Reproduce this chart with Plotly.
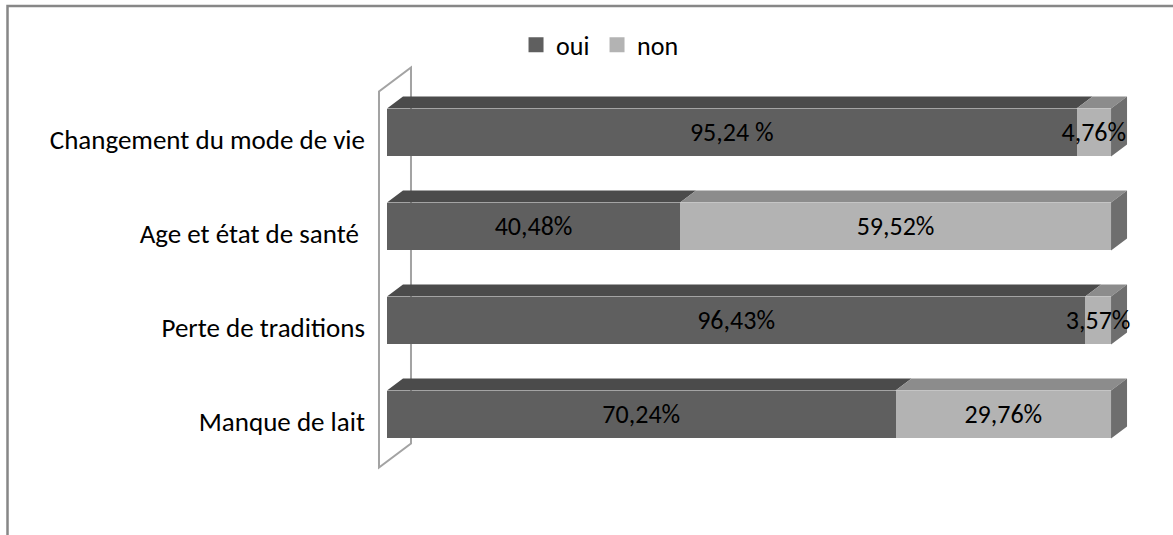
import plotly.graph_objects as go

# ---------------- data ----------------
categories = ["Manque de lait", "Perte de traditions", "Age et état de santé\u00a0", "Changement du mode de vie"]
oui = [70.24, 96.43, 40.48, 95.24]
non = [29.76, 3.57, 59.52, 4.76]
oui_labels = ["70,24%", "96,43%", "40,48%", "95,24 %"]
non_labels = ["29,76%", "3,57%", "59,52%", "4,76%"]
series_names = ["oui", "non"]

# ---------------- style ----------------
FONT = "Calibri, Carlito, Lato, sans-serif"
C_OUI_FRONT, C_OUI_TOP = "#5f5f5f", "#4b4b4b"
C_NON_FRONT, C_NON_TOP, C_NON_SIDE = "#b3b3b3", "#8c8c8c", "#6e6e6e"
WALL = "#a3a3a3"
BAR_W = 0.51
DX_FULL, DY_FULL = 4.42, 0.255      # oblique projection of full depth (data units)
F_FRONT, F_BACK = 0.25, 0.75        # bar depth span (fraction of full depth)
bdx = (F_BACK - F_FRONT) * DX_FULL
bdy = (F_BACK - F_FRONT) * DY_FULL
wf_dx, wf_dy = -F_FRONT * DX_FULL, -F_FRONT * DY_FULL
wb_dx, wb_dy = (1 - F_FRONT) * DX_FULL, (1 - F_FRONT) * DY_FULL

pos = list(range(len(categories)))
n = len(categories)

fig = go.Figure()

# front faces
fig.add_trace(go.Bar(y=pos, x=oui, orientation="h", width=BAR_W, name=series_names[0],
                     marker=dict(color=C_OUI_FRONT, line=dict(width=0)), hoverinfo="skip",
                     showlegend=False))
fig.add_trace(go.Bar(y=pos, x=non, base=oui, orientation="h", width=BAR_W, name=series_names[1],
                     marker=dict(color=C_NON_FRONT, line=dict(width=0)), hoverinfo="skip",
                     showlegend=False))

# legend entries (square keys)
for name, col in zip(series_names, [C_OUI_FRONT, C_NON_FRONT]):
    fig.add_trace(go.Scatter(x=[None], y=[None], mode="markers", name=name,
                             marker=dict(symbol="square", size=15, color=col), hoverinfo="skip"))


def poly_trace(xs, ys, color):
    return go.Scatter(x=xs, y=ys, mode="lines", fill="toself", fillcolor=color,
                      line=dict(width=0, color=color), showlegend=False, hoverinfo="skip")


# top faces
for seg_start, seg_len, col in [([0] * n, oui, C_OUI_TOP), (oui, non, C_NON_TOP)]:
    xs, ys = [], []
    for i in range(n):
        x0 = seg_start[i]
        x1 = seg_start[i] + seg_len[i]
        yt = pos[i] + BAR_W / 2
        xs += [x0, x1, x1 + bdx, x0 + bdx, x0, None]
        ys += [yt, yt, yt + bdy, yt + bdy, yt, None]
    fig.add_trace(poly_trace(xs, ys, col))

# side faces (right end)
xs, ys = [], []
for i in range(n):
    xe = oui[i] + non[i]
    yb, yt = pos[i] - BAR_W / 2, pos[i] + BAR_W / 2
    xs += [xe, xe, xe + bdx, xe + bdx, xe, None]
    ys += [yb, yt, yt + bdy, yb + bdy, yb, None]
fig.add_trace(poly_trace(xs, ys, C_NON_SIDE))

# data labels
lx = [o / 2 for o in oui] + [o + m / 2 for o, m in zip(oui, non)]
fig.add_trace(go.Scatter(x=lx, y=[p - 0.02 for p in pos] * 2, mode="text",
                         text=oui_labels + non_labels, textposition="middle center",
                         textfont=dict(family=FONT, size=26, color="#000000"),
                         showlegend=False, hoverinfo="skip"))

# wall (left side panel)
ylo, yhi = pos[0] - 0.5, pos[-1] + 0.5
wall_path = (f"M {wf_dx},{ylo + wf_dy} L {wf_dx},{yhi + wf_dy} L {wb_dx},{yhi + wb_dy} "
             f"L {wb_dx},{ylo + wb_dy} Z")
shapes = [dict(type="path", path=wall_path, xref="x", yref="y", layer="below",
               line=dict(color=WALL, width=2), fillcolor="rgba(0,0,0,0)")]
# outer chart border (left and top, cropped image)
shapes.append(dict(type="path", path="M -0.4746,-0.3 L -0.4746,1.1286 L 1.2,1.1286",
                   xref="paper", yref="paper", line=dict(color="#878787", width=2.5),
                   layer="above"))

fig.update_layout(
    width=1173, height=535,
    margin=dict(l=372, r=33, t=60, b=55),
    paper_bgcolor="white", plot_bgcolor="white",
    barmode="stack",
    font=dict(family=FONT, size=26, color="#000000"),
    shapes=shapes,
    showlegend=True,
    legend=dict(orientation="h", x=0.293, xanchor="center", y=1.036, yanchor="middle",
                font=dict(family=FONT, size=26, color="#000000"),
                itemwidth=30, entrywidth=36, entrywidthmode="pixels",
                traceorder="normal", bgcolor="rgba(0,0,0,0)"),
    xaxis=dict(range=[-2.07, 104.0], showgrid=False, zeroline=False, showticklabels=False,
               showline=False, fixedrange=True),
    yaxis=dict(range=[-0.697, 3.771], showgrid=False, zeroline=False, showline=False,
               tickmode="array", tickvals=[p + wf_dy - 0.01 for p in pos], ticktext=categories,
               ticks="", ticklabelstandoff=6, tickfont=dict(family=FONT, size=27, color="#000000"),
               fixedrange=True),
)

fig.write_html("out.html")
